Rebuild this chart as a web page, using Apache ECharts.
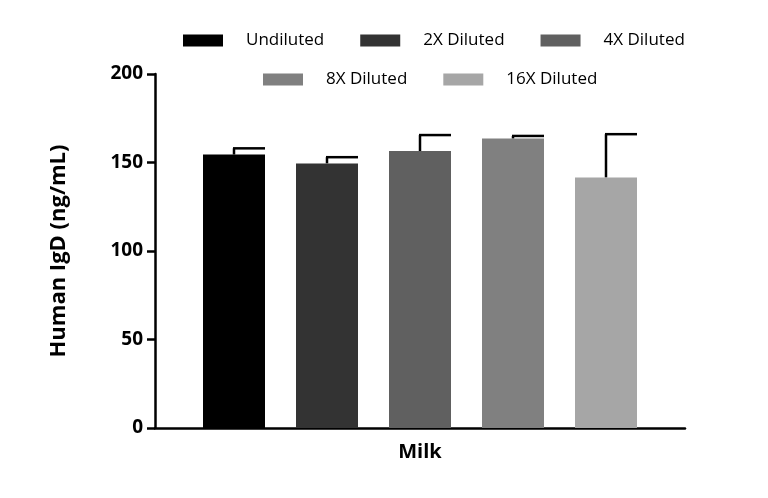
<!DOCTYPE html>
<html><head><meta charset="utf-8">
<script src="https://cdn.jsdelivr.net/npm/echarts@6/dist/echarts.min.js"></script>
<style>html,body{margin:0;background:#fff}#c{width:768px;height:498px}</style>
</head><body><div id="c"></div>
<script>
var categories = ['Milk'];
var seriesNames = ['Undiluted', '2X Diluted', '4X Diluted', '8X Diluted', '16X Diluted'];
var values = [154.5, 149.5, 156.5, 163.5, 141.5];
var errors = [3.5, 3.5, 9, 1.5, 24.5];
var colors = ['#000000', '#333333', '#606060', '#808080', '#a6a6a6'];
var yTicks = [0, 50, 100, 150, 200];

var chart = echarts.init(document.getElementById('c'));
var series = [];
seriesNames.forEach(function (name, i) {
    series.push({
        name: name, type: 'bar', data: [values[i]], barWidth: 62, barGap: '50%',
        itemStyle: {color: colors[i]}
    });
});
var errSeries = {
    type: 'custom', silent: true, z: 1,
    data: values.map(function (v, i) { return [0, v, v + errors[i], i]; }),
    renderItem: function (params, api) {
        var i = api.value(3);
        var band = api.size([1, 0])[0];
        var off = (i - 2) * 93 / 530 * band;
        var base = api.coord([0, api.value(1)]);
        var top = api.coord([0, api.value(2)]);
        var x = base[0] + off;
        return {type: 'group', children: [
            {type: 'line', shape: {x1: x, y1: base[1], x2: x, y2: top[1]}, style: {stroke: '#000', lineWidth: 2.5}},
            {type: 'line', shape: {x1: x - 1, y1: top[1], x2: x + 31, y2: top[1]}, style: {stroke: '#000', lineWidth: 2.5}}
        ]};
    }
};
series.push(errSeries);

var legendText = {fontSize: 17, color: '#000', fontFamily: 'Open Sans', padding: [0, 0, 0, 18]};
chart.setOption({
    animation: false,
    legend: [
        {data: seriesNames.slice(0, 3), left: 178, top: 27, itemWidth: 40, itemHeight: 12, itemGap: 36,
         icon: 'rect', textStyle: legendText},
        {data: seriesNames.slice(3), left: 258, top: 66, itemWidth: 40, itemHeight: 12, itemGap: 36,
         icon: 'rect', textStyle: legendText}
    ],
    grid: {left: 155, right: 83, top: 74, bottom: 70},
    xAxis: {
        type: 'category', data: categories,
        axisLine: {lineStyle: {color: '#000', width: 2.5}},
        axisTick: {show: false},
        axisLabel: {fontSize: 20, fontWeight: 'bold', color: '#000', fontFamily: 'Open Sans', margin: 14}
    },
    yAxis: {
        type: 'value', min: 0, max: 200, interval: 50,
        name: 'Human IgD (ng/mL)', nameLocation: 'middle', nameGap: 85,
        nameTextStyle: {fontSize: 22, fontWeight: 'bold', color: '#000', fontFamily: 'Open Sans'},
        axisLine: {show: true, lineStyle: {color: '#000', width: 2.5}},
        axisTick: {show: true, length: 8, lineStyle: {width: 2.5}},
        splitLine: {show: false},
        axisLabel: {fontSize: 19, fontWeight: 'bold', color: '#000', fontFamily: 'Open Sans', margin: 12,
            formatter: function (v) { return yTicks.indexOf(v) >= 0 ? v : ''; }}
    },
    series: series
});
window.addEventListener('resize', function () { chart.resize(); });
</script></body></html>
